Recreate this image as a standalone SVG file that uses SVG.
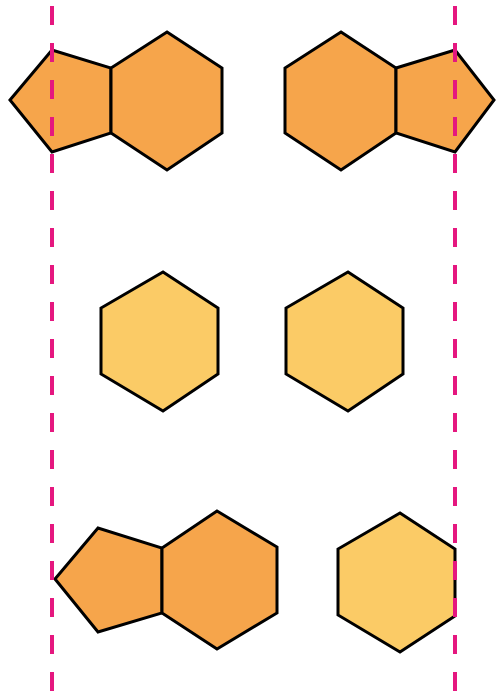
<svg xmlns="http://www.w3.org/2000/svg" width="496" height="696" viewBox="0 0 496 696">
  <style>
    .orange { fill: #F6A54B; stroke: #000; stroke-width: 3; stroke-linejoin: miter; }
    .yellow { fill: #FBCB66; stroke: #000; stroke-width: 3; stroke-linejoin: miter; }
    .guide { stroke: #E5177F; stroke-width: 4; stroke-dasharray: 19 18; fill: none; }
  </style>
  <rect width="496" height="696" fill="#fff"/>
  <g id="row1-left">
    <polygon class="orange" points="10,100 52,50 111,68 111,133 52,152"/>
    <polygon class="orange" points="167,32 222,68 222,133 167,170 111,133 111,68"/>
  </g>
  <g id="row1-right">
    <polygon class="orange" points="341,32 396,68 396,133 341,170 285,133 285,68"/>
    <polygon class="orange" points="396,68 455,50 494,100 455,152 396,133"/>
  </g>
  <g id="row2-left">
    <polygon class="yellow" points="163,272 218,308 218,374 163,411 101,374 101,308"/>
  </g>
  <g id="row2-right">
    <polygon class="yellow" points="348,272 403,308 403,374 348,411 286,374 286,308"/>
  </g>
  <g id="row3-left">
    <polygon class="orange" points="55,579 98,528 162,548 162,613 98,632"/>
    <polygon class="orange" points="217,511 277,547 277,613 217,649 162,613 162,548"/>
  </g>
  <g id="row3-right">
    <polygon class="yellow" points="400,513 455,549 455,616 400,652 338,615 338,549"/>
  </g>
  <g id="connectors">
    <line class="guide" x1="52" y1="6" x2="52" y2="696"/>
    <line class="guide" x1="455" y1="6" x2="455" y2="696"/>
  </g>
</svg>
